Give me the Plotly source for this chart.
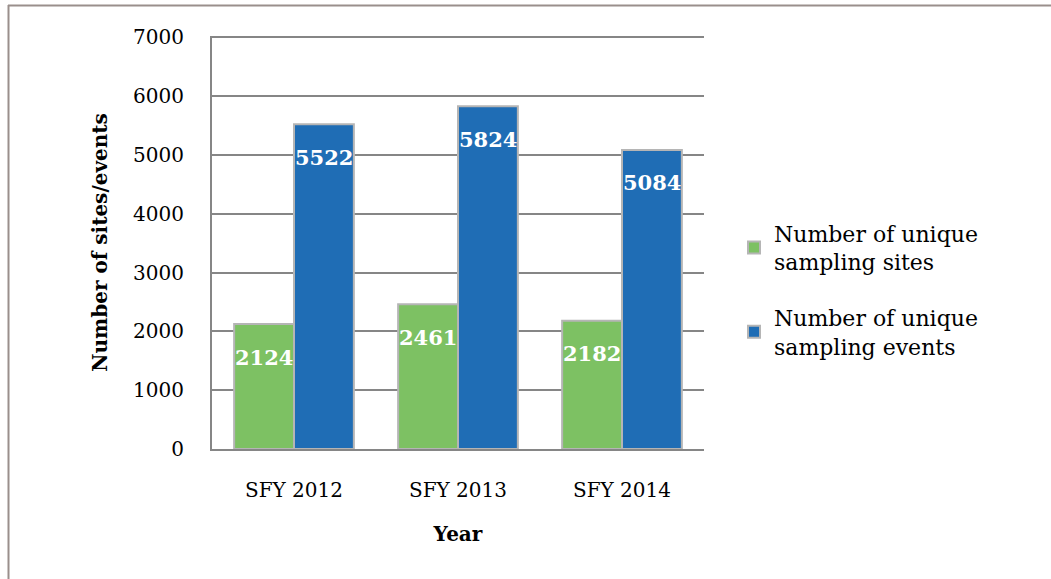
import plotly.graph_objects as go

categories = ["SFY 2012", "SFY 2013", "SFY 2014"]
sites = [2124, 2461, 2182]
events = [5522, 5824, 5084]
series_names = ["Number of unique<br>sampling sites", "Number of unique<br>sampling events"]
colors = ["#7dc163", "#1f6db5"]
y_ticks = [0, 1000, 2000, 3000, 4000, 5000, 6000, 7000]

FONT = "DejaVu Serif, Liberation Serif, serif"

W, H = 1051, 579
L, R, T, B = 212, 347, 36, 130
pw, ph = W - L - R, H - T - B

fig = go.Figure()
for i, (name, vals, col) in enumerate(zip(series_names, [sites, events], colors)):
    fig.add_trace(go.Bar(
        x=categories, y=vals, name=name, legendgroup=f"g{i}",
        marker=dict(color=col, line=dict(color="#b5b5b5", width=2)),
        textposition="none",
    ))

# value labels
for vals, xs in [(sites, -30), (events, 30)]:
    for c, v in zip(categories, vals):
        fig.add_annotation(x=c, y=v, text=f"<b>{v}</b>", showarrow=False,
                           xshift=xs, yshift=-33, yanchor="middle",
                           font=dict(family=FONT, size=21, color="white"))

def px_x(p):
    return (p - L) / pw
def px_y(p):
    return (H - B - p) / ph

# outer page frame
fig.add_shape(type="line", xref="paper", yref="paper",
              x0=px_x(8), x1=px_x(1060), y0=px_y(5.5), y1=px_y(5.5),
              line=dict(color="#9a8f8c", width=2))
fig.add_shape(type="line", xref="paper", yref="paper",
              x0=px_x(8.5), x1=px_x(8.5), y0=px_y(5), y1=px_y(590),
              line=dict(color="#9a8f8c", width=2))

fig.update_layout(
    width=W, height=H,
    margin=dict(l=L, r=R, t=T, b=B, autoexpand=False),
    paper_bgcolor="white", plot_bgcolor="white",
    barmode="group", bargap=0.27, bargroupgap=0,
    font=dict(family=FONT, size=20, color="black"),
    showlegend=True,
    legend=dict(x=px_x(734), y=px_y(290), xanchor="left", yanchor="middle",
                font=dict(family=FONT, size=22), tracegroupgap=24,
                traceorder="grouped", itemwidth=30),
    xaxis=dict(showgrid=False, showline=True, linecolor="#868686", linewidth=2,
               ticks="", ticklabelstandoff=22,
               title=dict(text="<b>Year</b>", standoff=26,
                          font=dict(family=FONT, size=20))),
    yaxis=dict(range=[0, 7020], tickvals=y_ticks, showgrid=True,
               gridcolor="#868686", gridwidth=2, showline=True,
               linecolor="#868686", linewidth=2, zeroline=False,
               ticks="", ticklabelstandoff=22,
               title=dict(text="<b>Number of sites/events</b>", standoff=20,
                          font=dict(family=FONT, size=20))),
)

fig.write_html("out.html", config={"displayModeBar": False},
               post_script="document.body.style.margin='0';")
